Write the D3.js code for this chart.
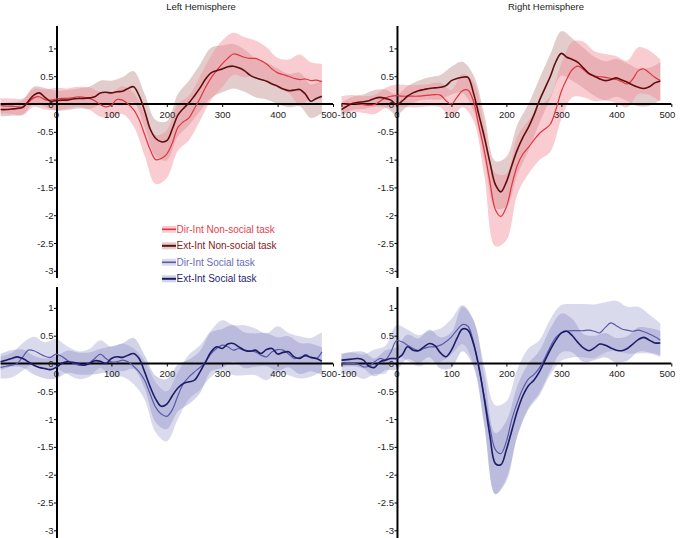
<!DOCTYPE html>
<html><head><meta charset="utf-8">
<script src="https://cdn.jsdelivr.net/npm/d3@7"></script>
<style>body{margin:0;background:#fff}svg{display:block;font-family:"Liberation Sans",Arial,sans-serif}</style>
</head><body>
<svg id="c" width="680" height="538"></svg>
<script>
// ---- data ----
const timeMs = [-100,-90,-80,-70,-60,-50,-40,-30,-20,-10,0,10,20,30,40,50,60,70,80,90,100,110,120,130,140,150,160,170,180,190,200,210,220,230,240,250,260,270,280,290,300,310,320,330,340,350,360,370,380,390,400,410,420,430,440,450,460,470,480];
const bandMs = [-100,-80,-60,-40,-20,0,20,40,60,80,100,120,140,160,180,200,220,240,260,280,300,320,340,360,380,400,420,440,460,480];
const xTickValues = [-100,0,100,200,300,400,500];
const yTickValues = [-3,-2.5,-2,-1.5,-1,-0.5,0,0.5,1];
const panelTitles = ["Left Hemisphere","Right Hemisphere"];
const legendLabels = ["Dir-Int Non-social task","Ext-Int Non-social task","Dir-Int Social task","Ext-Int Social task"];

// Left hemisphere, non-social task
const lhNsDir = [-0.03,-0.04,-0.04,-0.05,-0.05,0.03,0.11,0.13,0.08,0.07, 0.09,0.1,0.1,0.11,0.13,0.12,0.1,0.06,-0.01,-0.05, -0.02,0.08,0.07,0.0,-0.1,-0.28,-0.55,-0.82,-1.0,-0.98, -0.9,-0.7,-0.42,-0.32,-0.25,-0.08,0.1,0.3,0.47,0.6, 0.72,0.82,0.9,0.88,0.84,0.82,0.82,0.78,0.72,0.63, 0.56,0.53,0.5,0.46,0.44,0.45,0.42,0.43,0.4];
const lhNsExt = [-0.1,-0.1,-0.09,-0.08,-0.06,0.05,0.16,0.2,0.12,0.05, 0.06,0.07,0.07,0.09,0.1,0.1,0.11,0.13,0.2,0.21, 0.2,0.22,0.23,0.28,0.31,0.15,-0.12,-0.45,-0.62,-0.68, -0.66,-0.45,-0.2,-0.08,0.02,0.15,0.29,0.45,0.56,0.6, 0.63,0.67,0.68,0.65,0.6,0.52,0.47,0.44,0.41,0.36, 0.32,0.27,0.24,0.25,0.26,0.18,0.05,0.1,0.14];
const lhNsDirErr = [0.14,0.14,0.15,0.16,0.18, 0.2,0.18,0.18,0.2,0.22, 0.22,0.25,0.3,0.38,0.44, 0.43,0.42,0.4,0.4,0.4, 0.42,0.38,0.36,0.32,0.3, 0.27,0.3,0.45,0.33,0.32];
const lhNsExtErr = [0.12,0.12,0.13,0.15,0.17, 0.18,0.18,0.18,0.2,0.22, 0.22,0.25,0.28,0.3,0.33, 0.35,0.38,0.4,0.42,0.45, 0.42,0.4,0.38,0.35,0.33, 0.32,0.3,0.3,0.3,0.3];

// Right hemisphere, non-social task
const rhNsDir = [-0.01,0.0,0.01,0.0,-0.01,-0.02,-0.01,0.05,0.11,0.14, 0.15,0.14,0.14,0.14,0.14,0.15,0.16,0.17,0.16,0.06, 0.0,0.12,0.24,0.25,0.05,-0.4,-0.85,-1.4,-1.9,-2.02, -1.85,-1.45,-1.1,-0.9,-0.78,-0.65,-0.53,-0.45,-0.36,-0.1, 0.23,0.45,0.62,0.68,0.62,0.54,0.5,0.49,0.48,0.46, 0.44,0.4,0.36,0.45,0.6,0.63,0.56,0.48,0.42];
const rhNsExt = [-0.1,-0.04,0.01,0.03,0.04,0.06,0.1,0.12,0.1,0.07, -0.01,0.05,0.14,0.2,0.24,0.26,0.28,0.29,0.3,0.33, 0.42,0.46,0.48,0.48,0.2,-0.2,-0.6,-1.05,-1.45,-1.58, -1.4,-1.1,-0.82,-0.6,-0.42,-0.2,0.06,0.28,0.5,0.76, 0.91,0.84,0.8,0.75,0.65,0.55,0.5,0.45,0.42,0.44, 0.47,0.43,0.39,0.34,0.3,0.28,0.31,0.38,0.41];
const rhNsDirErr = [0.15,0.15,0.15,0.17,0.18, 0.2,0.2,0.2,0.2,0.22, 0.25,0.3,0.35,0.45,0.66, 0.6,0.52,0.48,0.48,0.5, 0.5,0.5,0.5,0.45,0.42, 0.42,0.42,0.42,0.4,0.38];
const rhNsExtErr = [0.12,0.12,0.13,0.15,0.16, 0.18,0.18,0.18,0.2,0.22, 0.25,0.28,0.32,0.4,0.42, 0.45,0.45,0.42,0.4,0.4, 0.4,0.38,0.36,0.35,0.35, 0.34,0.34,0.34,0.34,0.34];

// Left hemisphere, social task
const lhSDir = [-0.07,-0.05,-0.03,0.0,0.12,0.24,0.23,0.18,0.13,0.11, 0.17,0.13,0.06,0.01,-0.03,-0.03,0.01,0.09,0.17,0.09, 0.03,0.03,0.06,0.03,-0.05,-0.15,-0.3,-0.55,-0.79,-0.91, -0.95,-0.83,-0.58,-0.36,-0.24,-0.15,-0.07,0.03,0.18,0.27, 0.33,0.3,0.24,0.27,0.24,0.23,0.21,0.15,0.12,0.21, 0.25,0.24,0.17,0.09,0.11,0.13,0.11,0.09,0.21];
const lhSExt = [0.03,0.06,0.09,0.12,0.09,0.03,-0.03,-0.07,-0.09,-0.11, -0.07,0.0,0.03,0.02,0.0,-0.03,0.0,0.05,0.04,0.0, 0.09,0.12,0.11,0.15,0.18,0.09,-0.15,-0.42,-0.64,-0.77, -0.73,-0.58,-0.44,-0.36,-0.33,-0.3,-0.15,0.03,0.21,0.3, 0.27,0.35,0.36,0.3,0.24,0.22,0.24,0.18,0.25,0.27, 0.17,0.2,0.21,0.12,0.09,0.15,0.11,0.09,0.04];
const lhSDirErr = [0.2,0.22,0.25,0.25,0.25, 0.27,0.25,0.25,0.25,0.25, 0.27,0.3,0.32,0.35,0.45, 0.45,0.42,0.4,0.4,0.42, 0.45,0.45,0.45,0.42,0.42, 0.42,0.38,0.38,0.35,0.35];
const lhSExtErr = [0.15,0.15,0.16,0.17,0.18, 0.2,0.2,0.2,0.2,0.22, 0.22,0.25,0.28,0.3,0.42, 0.45,0.42,0.4,0.38,0.35, 0.35,0.33,0.32,0.3,0.3, 0.3,0.28,0.28,0.25,0.25];

// Right hemisphere, social task
const rhSDir = [-0.01,0.0,0.0,-0.01,-0.06,-0.05,0.03,0.09,0.07,0.21, 0.41,0.39,0.33,0.27,0.23,0.27,0.3,0.3,0.33,0.39, 0.48,0.6,0.7,0.67,0.39,-0.1,-0.6,-1.15,-1.55,-1.62, -1.4,-1.0,-0.7,-0.45,-0.28,-0.2,-0.08,0.1,0.3,0.47, 0.55,0.58,0.59,0.59,0.59,0.6,0.58,0.55,0.65,0.73, 0.68,0.62,0.6,0.58,0.6,0.57,0.53,0.48,0.42];
const rhSExt = [0.06,0.07,0.08,0.09,0.06,-0.05,-0.07,0.03,0.06,0.09, 0.09,0.15,0.3,0.24,0.23,0.3,0.36,0.32,0.19,0.12, 0.24,0.45,0.62,0.6,0.36,-0.06,-0.65,-1.3,-1.8,-1.82, -1.55,-1.2,-0.85,-0.58,-0.4,-0.3,-0.15,0.05,0.25,0.42, 0.55,0.58,0.5,0.38,0.28,0.23,0.28,0.35,0.33,0.28, 0.24,0.23,0.27,0.35,0.43,0.47,0.42,0.37,0.37];
const rhSDirErr = [0.18,0.2,0.22,0.22,0.25, 0.28,0.28,0.28,0.28,0.3, 0.32,0.35,0.4,0.55,0.8, 0.72,0.6,0.55,0.5,0.5, 0.5,0.48,0.48,0.48,0.45, 0.45,0.42,0.42,0.35,0.3];
const rhSExtErr = [0.12,0.13,0.15,0.16,0.18, 0.2,0.22,0.22,0.25,0.28, 0.32,0.4,0.42,0.45,0.55, 0.52,0.45,0.4,0.38,0.38, 0.35,0.3,0.25,0.22,0.22, 0.22,0.22,0.22,0.22,0.22];

// ---- styles ----
const styles = {
  nsDir: {line:"#e0343f", width:1.2, band:"#f28d99", op:0.45, text:"#e8424e"},
  nsExt: {line:"#5e0e0e", width:1.6, band:"#9e5555", op:0.3, text:"#7d1c1c"},
  sDir:  {line:"#5a5aa8", width:1.2, band:"#8c8cc8", op:0.32, text:"#6b6bb5"},
  sExt:  {line:"#1c1c66", width:1.6, band:"#6a6ab5", op:0.3, text:"#26266e"}
};

const panels = [
  {x0:0.6, x1:333, y0:104, title:0, titleX:201, ticks:xTickValues.filter(d=>d!==-100), axisTop:26, axisBottom:278,
   series:[{mean:lhNsExt, err:lhNsExtErr, s:styles.nsExt},{mean:lhNsDir, err:lhNsDirErr, s:styles.nsDir}]},
  {x0:341.5, x1:671.3, y0:104, title:1, titleX:546, ticks:xTickValues, axisTop:26, axisBottom:278,
   series:[{mean:rhNsExt, err:rhNsExtErr, s:styles.nsExt},{mean:rhNsDir, err:rhNsDirErr, s:styles.nsDir}]},
  {x0:0.6, x1:333, y0:363.5, title:null, ticks:xTickValues.filter(d=>d!==-100), axisTop:287, axisBottom:540,
   series:[{mean:lhSExt, err:lhSExtErr, s:styles.sExt},{mean:lhSDir, err:lhSDirErr, s:styles.sDir}]},
  {x0:341.5, x1:671.3, y0:363.5, title:null, ticks:xTickValues, axisTop:287, axisBottom:540,
   series:[{mean:rhSExt, err:rhSExtErr, s:styles.sExt},{mean:rhSDir, err:rhSDirErr, s:styles.sDir}]}
];

const svg = d3.select("#c");
const unit = 55.6;
const fmt = d => String(d);

panels.forEach((p, pi) => {
  const x = d3.scaleLinear().domain([-100, 500]).range([p.x0, p.x1]);
  const y = d3.scaleLinear().domain([-3, 1]).range([p.y0 + 3*unit, p.y0 - unit]);
  const g = svg.append("g");

  // bands
  p.series.forEach(sr => {
    const pts = bandMs.map((t, i) => ({t, m: sr.mean[timeMs.indexOf(t)], e: sr.err[i]}));
    g.append("path").datum(pts)
      .attr("d", d3.area().x(d => x(d.t)).y0(d => y(d.m - d.e)).y1(d => y(d.m + d.e)).curve(d3.curveCatmullRom))
      .attr("fill", sr.s.band).attr("fill-opacity", sr.s.op);
  });

  // x axis
  const xa = g.append("g").attr("transform", `translate(0,${y(0)})`)
    .call(d3.axisBottom(x).tickValues(p.ticks).tickSize(3).tickPadding(4).tickFormat(fmt));
  xa.select(".domain").remove();
  xa.selectAll("text").attr("font-size", "9.5px").attr("fill", "#222").attr("font-family", "Liberation Sans, Arial, sans-serif");
  // keep the shared corner labels (500 | -100) from colliding
  xa.selectAll(".tick").filter(d => d === 500).select("text").attr("text-anchor", "end").attr("x", 3.5);
  xa.selectAll(".tick").filter(d => d === -100).select("text").attr("text-anchor", "start").attr("x", -4.5);
  xa.selectAll("line").attr("stroke", "#000");
  g.append("line").attr("x1", x(-100)).attr("x2", x(500)).attr("y1", y(0)).attr("y2", y(0))
    .attr("stroke", "#000").attr("stroke-width", 2);

  // y axis
  const ya = g.append("g").attr("transform", `translate(${x(0) + 1},0)`)
    .call(d3.axisLeft(y).tickValues(yTickValues).tickSize(3).tickPadding(0.5).tickFormat(fmt));
  ya.select(".domain").remove();
  ya.selectAll("text").attr("font-size", "9.5px").attr("fill", "#222").attr("font-family", "Liberation Sans, Arial, sans-serif");
  ya.selectAll("line").attr("stroke", "#000");
  g.append("line").attr("x1", x(0) + 1).attr("x2", x(0) + 1).attr("y1", p.axisTop).attr("y2", p.axisBottom)
    .attr("stroke", "#000").attr("stroke-width", 2);

  // mean lines
  p.series.slice().reverse().forEach(sr => {
    const pts = timeMs.map((t, i) => ({t, v: sr.mean[i]}));
    g.append("path").datum(pts)
      .attr("d", d3.line().x(d => x(d.t)).y(d => y(d.v)).curve(d3.curveCatmullRom))
      .attr("fill", "none").attr("stroke", sr.s.line).attr("stroke-width", sr.s.width);
  });

  if (p.title !== null) {
    svg.append("text").attr("x", p.titleX).attr("y", 9.5)
      .attr("text-anchor", "middle").attr("font-size", "9.5px").attr("fill", "#222")
      .text(panelTitles[p.title]);
  }
});

// legend
const legendStyles = [styles.nsDir, styles.nsExt, styles.sDir, styles.sExt];
const lg = svg.append("g");
legendLabels.forEach((lab, i) => {
  const cy = 229.3 + i * 16.5;
  const st = legendStyles[i];
  lg.append("rect").attr("x", 162).attr("y", cy - 3.5).attr("width", 14).attr("height", 7)
    .attr("fill", st.band).attr("fill-opacity", st.op);
  lg.append("line").attr("x1", 162).attr("x2", 176).attr("y1", cy).attr("y2", cy)
    .attr("stroke", st.line).attr("stroke-width", st.width + 0.4);
  lg.append("text").attr("x", 176.5).attr("y", cy).attr("dy", "0.35em")
    .attr("font-size", "10px").attr("fill", st.text).text(lab);
});
</script>
</body></html>
